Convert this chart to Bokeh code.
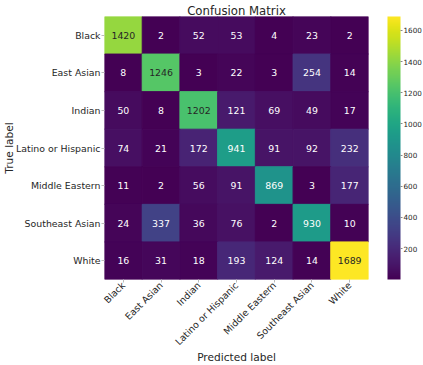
from math import pi
from bokeh.plotting import figure
from bokeh.models import ColumnDataSource, LinearColorMapper, ColorBar, FixedTicker
from bokeh.palettes import Viridis256
from bokeh.core.properties import value
from bokeh.embed import file_html
from bokeh.resources import INLINE

labels = ["Black", "East Asian", "Indian", "Latino or Hispanic",
          "Middle Eastern", "Southeast Asian", "White"]
row_black = [1420, 2, 52, 53, 4, 23, 2]
row_east_asian = [8, 1246, 3, 22, 3, 254, 14]
row_indian = [50, 8, 1202, 121, 69, 49, 17]
row_latino = [74, 21, 172, 941, 91, 92, 232]
row_middle_eastern = [11, 2, 56, 91, 869, 3, 177]
row_southeast_asian = [24, 337, 36, 76, 2, 930, 10]
row_white = [16, 31, 18, 193, 124, 14, 1689]
cbar_ticks = [200, 400, 600, 800, 1000, 1200, 1400, 1600]

rows = [row_black, row_east_asian, row_indian, row_latino,
        row_middle_eastern, row_southeast_asian, row_white]

xs, ys, vals, txt, tcol = [], [], [], [], []
for true_lab, row in zip(labels, rows):
    for pred_lab, v in zip(labels, row):
        xs.append(pred_lab)
        ys.append(true_lab)
        vals.append(v)
        txt.append(str(v))
        tcol.append("#262626" if v > 1000 else "white")

all_vals = [v for r in rows for v in r]
mapper = LinearColorMapper(palette=Viridis256, low=min(all_vals), high=max(all_vals))

src = ColumnDataSource(dict(x=xs, y=ys, v=vals, t=txt, c=tcol))

FONT = "DejaVu Sans"
FW, FH = 264, 263
try:
    from bokeh.models import Title
    Title(standoff=-2)
    title_standoff = -2
except Exception:
    title_standoff = 0
    FH = 261

p = figure(x_range=labels, y_range=list(reversed(labels)),
           frame_width=FW, frame_height=FH, output_backend="svg", toolbar_location=None,
           min_border_left=104, min_border_top=16, min_border_bottom=84, min_border_right=55)
p.rect(x="x", y="y", width=1, height=1, source=src,
       fill_color={"field": "v", "transform": mapper},
       line_color={"field": "v", "transform": mapper})
p.text(x="x", y="y", text="t", source=src, text_color="c",
       text_align="center", text_baseline="middle",
       text_font_size="9.4px", text_font=value(FONT))

p.title.text = "Confusion Matrix"
p.title.align = "center"
p.title.text_font = FONT
p.title.text_font_size = "11.7px"
p.title.text_font_style = "normal"
p.title.text_color = "#262626"
p.title.standoff = title_standoff

p.grid.visible = False
p.outline_line_color = None
for ax in (p.xaxis[0], p.yaxis[0]):
    ax.axis_line_color = None
    ax.major_tick_in = 0
    ax.major_tick_out = 3
    ax.major_tick_line_color = "#bbbbbb"
    ax.minor_tick_line_color = None
    ax.major_label_text_font = FONT
    ax.major_label_text_font_size = "9.4px"
    ax.major_label_text_color = "#262626"
    ax.major_label_standoff = 1
    ax.axis_label_text_font = FONT
    ax.axis_label_text_font_size = "10.6px"
    ax.axis_label_text_font_style = "normal"
    ax.axis_label_text_color = "#262626"
p.xaxis.major_label_orientation = pi / 4
p.xaxis.axis_label = "Predicted label"
p.yaxis.axis_label = "True label"
p.xaxis.axis_label_standoff = -3
p.yaxis.axis_label_standoff = -2

cb = ColorBar(color_mapper=mapper, ticker=FixedTicker(ticks=cbar_ticks),
              width=13, height=FH, location=(19, 0), margin=0, padding=0,
              major_label_text_font=FONT, major_label_text_font_size="7.2px",
              major_label_text_color="#262626",
              major_tick_in=0, major_tick_out=2, major_tick_line_color="#888888",
              bar_line_color=None, border_line_color=None, label_standoff=1)
p.add_layout(cb, "right")

open("out.html", "w").write(file_html(p, INLINE))
